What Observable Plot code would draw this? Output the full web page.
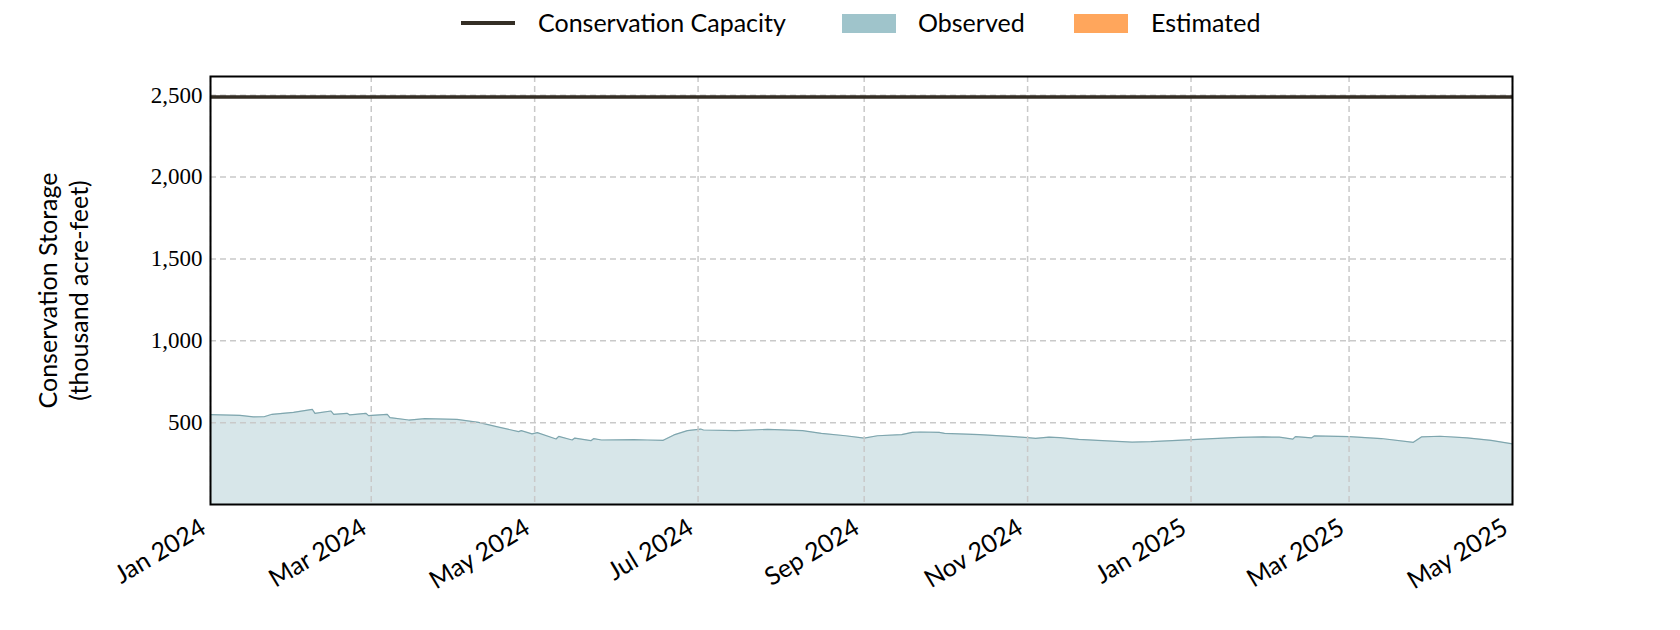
<!DOCTYPE html>
<html>
<head>
<meta charset="utf-8">
<script src="https://cdn.jsdelivr.net/npm/d3@7"></script>
<script src="https://cdn.jsdelivr.net/npm/@observablehq/plot@0.6"></script>
<style>
  html, body { margin: 0; padding: 0; background: #fff; }
  #legend { position: relative; width: 1680px; height: 50px; font-family: Lato, sans-serif; font-size: 25px; color: #000; }
  #legend .sw { position: absolute; }
  #legend .lbl { position: absolute; top: 6px; line-height: 32px; white-space: nowrap; }
</style>
</head>
<body>
<div id="legend"></div>
<div id="chart"></div>
<script>
// ---- data ----
const obsDates = [
  "2024-01-01","2024-01-12","2024-01-17","2024-01-21","2024-01-24","2024-02-01","2024-02-08","2024-02-09",
  "2024-02-15","2024-02-16","2024-02-21","2024-02-22","2024-02-28","2024-02-29","2024-03-07","2024-03-08",
  "2024-03-15","2024-03-21","2024-04-02","2024-04-10","2024-04-18","2024-04-25","2024-04-26","2024-04-30",
  "2024-05-02","2024-05-09","2024-05-10","2024-05-15","2024-05-16","2024-05-22","2024-05-23","2024-05-26",
  "2024-06-07","2024-06-12","2024-06-18","2024-06-22","2024-06-27","2024-07-02","2024-07-03","2024-07-15",
  "2024-07-27","2024-08-09","2024-08-16","2024-08-25","2024-09-01","2024-09-06","2024-09-15","2024-09-19",
  "2024-09-22","2024-09-29","2024-10-01","2024-10-14","2024-10-31","2024-11-04","2024-11-09","2024-11-13",
  "2024-11-20","2024-11-29","2024-12-10","2024-12-17","2024-12-27","2025-01-09","2025-01-19","2025-01-28",
  "2025-02-03","2025-02-08","2025-02-09","2025-02-15","2025-02-16","2025-03-01","2025-03-13","2025-03-25",
  "2025-03-28","2025-04-04","2025-04-14","2025-04-23","2025-05-01"
];
const obsValues = [
  549,545,535,536,551,563,581,557,
  571,551,557,547,557,543,551,531,
  516,524,520,502,471,445,451,431,
  439,400,416,394,406,390,402,394,
  396,394,392,425,451,461,455,451,
  459,451,435,420,406,420,427,441,
  443,441,435,427,410,404,412,408,
  398,390,381,384,392,402,410,413,
  411,399,415,407,419,415,403,380,
  413,417,407,392,370
];
const capacity = 2490;
const xTickDates = ["2024-01-01","2024-03-01","2024-05-01","2024-07-01","2024-09-01","2024-11-01","2025-01-01","2025-03-01","2025-05-01"];
const yTicks = [500, 1000, 1500, 2000, 2500];
const legendItems = ["Conservation Capacity", "Observed", "Estimated"];
const yLabel = "Conservation Storage\n(thousand acre-feet)";

// ---- styles ----
const capColor = "#342e25";
const obsColor = "#9fc4cb";
const obsStroke = "#7fa6ae";
const estColor = "#ffa65c";
const gridColor = "#c9c9c9";

const data = obsDates.map((d, i) => ({date: new Date(d + "T00:00:00Z"), value: obsValues[i]}));
const xTicks = xTickDates.map(d => new Date(d + "T00:00:00Z"));

// legend
const legend = document.getElementById("legend");
const legendLayout = [
  {kind: "line", sx: 461, tx: 538, color: capColor},
  {kind: "box", sx: 842, tx: 918, color: obsColor},
  {kind: "box", sx: 1074, tx: 1151, color: estColor}
];
legendLayout.forEach((l, i) => {
  const sw = document.createElement("div");
  sw.className = "sw";
  sw.style.left = l.sx + "px";
  sw.style.width = "54px";
  sw.style.background = l.color;
  if (l.kind === "line") { sw.style.top = "21px"; sw.style.height = "4px"; }
  else { sw.style.top = "14px"; sw.style.height = "19px"; }
  legend.appendChild(sw);
  const t = document.createElement("span");
  t.className = "lbl";
  t.style.left = l.tx + "px";
  t.textContent = legendItems[i];
  legend.appendChild(t);
});

const chart = Plot.plot({
  width: 1680,
  height: 580,
  marginTop: 26,
  marginBottom: 126,
  marginLeft: 210,
  marginRight: 168,
  style: {background: "#fff", color: "#000"},
  x: {type: "utc", domain: [xTicks[0], xTicks[xTicks.length - 1]]},
  y: {domain: [0, capacity * 1.05]},
  marks: [
    Plot.areaY(data, {x: "date", y: "value", fill: obsColor, fillOpacity: 0.42}),
    Plot.lineY(data, {x: "date", y: "value", stroke: obsStroke, strokeWidth: 1.2}),
    Plot.gridX(xTicks, {stroke: gridColor, strokeOpacity: 1, strokeWidth: 1.5, strokeDasharray: "6,4"}),
    Plot.gridY(yTicks, {stroke: gridColor, strokeOpacity: 1, strokeWidth: 1.5, strokeDasharray: "6,4"}),
    Plot.ruleY([capacity], {stroke: capColor, strokeWidth: 3.5}),
    Plot.axisY(yTicks, {tickSize: 0, tickPadding: 8, fontSize: 23, fontFamily: "Liberation Serif", label: null, tickFormat: d3.format(",")}),
    Plot.axisX(xTicks, {tickSize: 0, tickPadding: 21, dx: -7, tickRotate: -31, fontSize: 25, fontFamily: "Lato", label: null, tickFormat: d3.utcFormat("%b %Y")}),
    Plot.text([yLabel], {frameAnchor: "left", dx: -148, rotate: -90, fontSize: 25, fontFamily: "Lato", lineHeight: 1.22, textAnchor: "middle", lineAnchor: "middle", fill: "#000"}),
    Plot.frame({stroke: "#000", strokeWidth: 2})
  ]
});
document.getElementById("chart").appendChild(chart);
</script>
</body>
</html>
